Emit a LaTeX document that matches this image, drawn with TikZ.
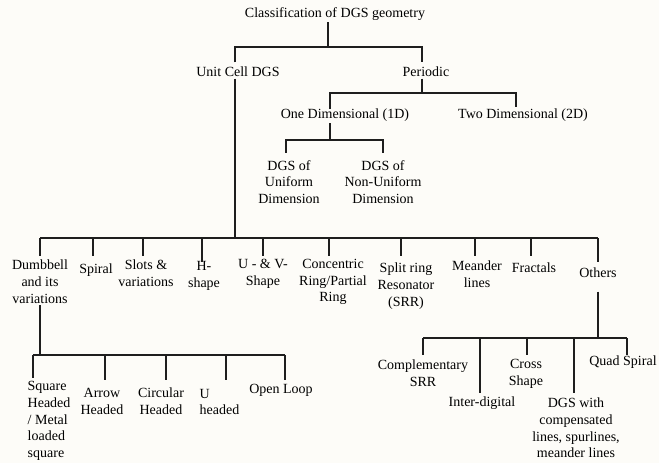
\documentclass[tikz,border=0pt]{standalone}
\usepackage{fontspec}
\setmainfont{Liberation Serif}
\definecolor{bgc}{RGB}{253,252,248}
\definecolor{lnc}{RGB}{30,30,30}
\begin{document}
\begin{tikzpicture}[x=1pt,y=-1pt,
  lbl/.style={font=\fontsize{14}{16.8}\selectfont, align=center, inner sep=1.5pt, text=black},
  conn/.style={line width=1.3pt, draw=lnc}]
\fill[bgc] (0,0) rectangle (659,463);
\useasboundingbox (0,0) rectangle (659,463);
% nodes
\node[lbl] (title) at (335,14) {Classification of DGS geometry};
\node[lbl] (unit) at (238,72) {Unit Cell DGS};
\node[lbl] (per) at (426,72) {Periodic};
\node[lbl] (oneD) at (345,115) {One Dimensional (1D)};
\node[lbl] (twoD) at (523,115) {Two Dimensional (2D)};
\node[lbl] (uni) at (289,182) {DGS of\\Uniform\\Dimension};
\node[lbl] (nonuni) at (383,182) {DGS of\\Non-Uniform\\Dimension};
\node[lbl] (dumb) at (40,282) {Dumbbell\\and its\\variations};
\node[lbl] (spiral) at (96,270) {Spiral};
\node[lbl] (slots) at (146,273.5) {Slots \&\\variations};
\node[lbl] (hshape) at (204,276) {H-\\shape};
\node[lbl] (uv) at (263,273.5) {U - \& V-\\Shape};
\node[lbl] (conc) at (333,282) {Concentric\\Ring/Partial\\Ring};
\node[lbl] (srr) at (406,286) {Split ring\\Resonator\\(SRR)};
\node[lbl] (mea) at (477,274) {Meander\\lines};
\node[lbl] (frac) at (534,268) {Fractals};
\node[lbl] (oth) at (598,273) {Others};
\node[lbl, align=left, anchor=west] (sq) at (26,421) {Square\\Headed\\/ Metal\\loaded\\square};
\node[lbl] (arrow) at (102,401.5) {Arrow\\Headed};
\node[lbl] (circ) at (161,401.5) {Circular\\Headed};
\node[lbl, align=left, anchor=west] (uh) at (198,402) {U\\headed};
\node[lbl] (open) at (281,390) {Open Loop};
\node[lbl] (comp) at (423,373.5) {Complementary\\SRR};
\node[lbl] (inter) at (482,403) {Inter-digital};
\node[lbl] (cross) at (526,373.5) {Cross\\Shape};
\node[lbl] (dgsw) at (576,428) {DGS with\\compensated\\lines, spurlines,\\meander lines};
\node[lbl] (quad) at (623,362) {Quad Spiral};
% bus levels
\coordinate (b1) at (0,47);
\coordinate (b2) at (0,93);
\coordinate (b3) at (0,140);
\coordinate (b4) at (0,238);
\coordinate (e4) at (0,256);
\coordinate (e4b) at (0,262);
\coordinate (b5) at (0,355);
\coordinate (e5) at (0,380);
\coordinate (b6) at (0,338);
\coordinate (e6a) at (0,355);
\coordinate (e6b) at (0,393);
% level 1
\draw[conn] ([xshift=-7pt]title.south) -- ([xshift=-7pt]title.south |- b1);
\draw[conn] ([xshift=-3pt,yshift=3pt]unit.north) -- ([xshift=-3pt]unit.north |- b1)
  -- ([xshift=-4pt]per.north |- b1) -- ([xshift=-4pt,yshift=3pt]per.north);
% periodic
\draw[conn] ([xshift=-4pt]per.south) -- ([xshift=-4pt]per.south |- b2);
\draw[conn] ([xshift=-15pt,yshift=-2pt]oneD.north) -- ([xshift=-15pt]oneD.north |- b2)
  -- ([xshift=-7pt]twoD.north |- b2) -- ([xshift=-7pt]twoD.north);
\draw[conn] ([xshift=-15pt]oneD.south) -- ([xshift=-15pt]oneD.south |- b3);
\draw[conn] ([xshift=-3pt,yshift=6pt]uni.north) -- ([xshift=-3pt]uni.north |- b3)
  -- (nonuni.north |- b3) -- ([yshift=6pt]nonuni.north);
% unit cell
\draw[conn] ([xshift=-3pt]unit.south) -- ([xshift=-3pt]unit.south |- b4);
\draw[conn] (dumb.north |- b4) -- (oth.north |- b4);
\foreach \n/\d in {dumb/0,spiral/-3,slots/-3,uv/0,conc/-4,srr/-5,mea/-2,frac/-3}
  \draw[conn] ([xshift=\d pt]\n.north |- b4) -- ([xshift=\d pt]\n.north |- e4);
\foreach \n/\d in {hshape/-2,oth/0}
  \draw[conn] ([xshift=\d pt]\n.north |- b4) -- ([xshift=\d pt]\n.north |- e4b);
% dumbbell children
\draw[conn] (dumb.south) -- (dumb.south |- b5);
\draw[conn] ([xshift=7pt]sq.west |- b5) -- ([xshift=4pt]open.north |- b5);
\draw[conn] ([xshift=7pt]sq.west |- b5) -- ([xshift=7pt,yshift=2pt]sq.west |- e5);
\foreach \n/\d in {arrow/3,circ/5,open/4}
  \draw[conn] ([xshift=\d pt]\n.north |- b5) -- ([xshift=\d pt]\n.north |- e5);
\draw[conn] ([xshift=28pt]uh.west |- b5) -- ([xshift=28pt]uh.west |- e5);
% others children
\draw[conn] ([yshift=-12pt]oth.south) -- (oth.south |- b6);
\draw[conn] (comp.north |- b6) -- ([xshift=4pt]quad.north |- b6);
\foreach \n/\d in {comp/0,cross/1,quad/4}
  \draw[conn] ([xshift=\d pt]\n.north |- b6) -- ([xshift=\d pt]\n.north |- e6a);
\foreach \n/\d in {inter/-2,dgsw/-2}
  \draw[conn] ([xshift=\d pt]\n.north |- b6) -- ([xshift=\d pt]\n.north |- e6b);
\end{tikzpicture}
\end{document}
